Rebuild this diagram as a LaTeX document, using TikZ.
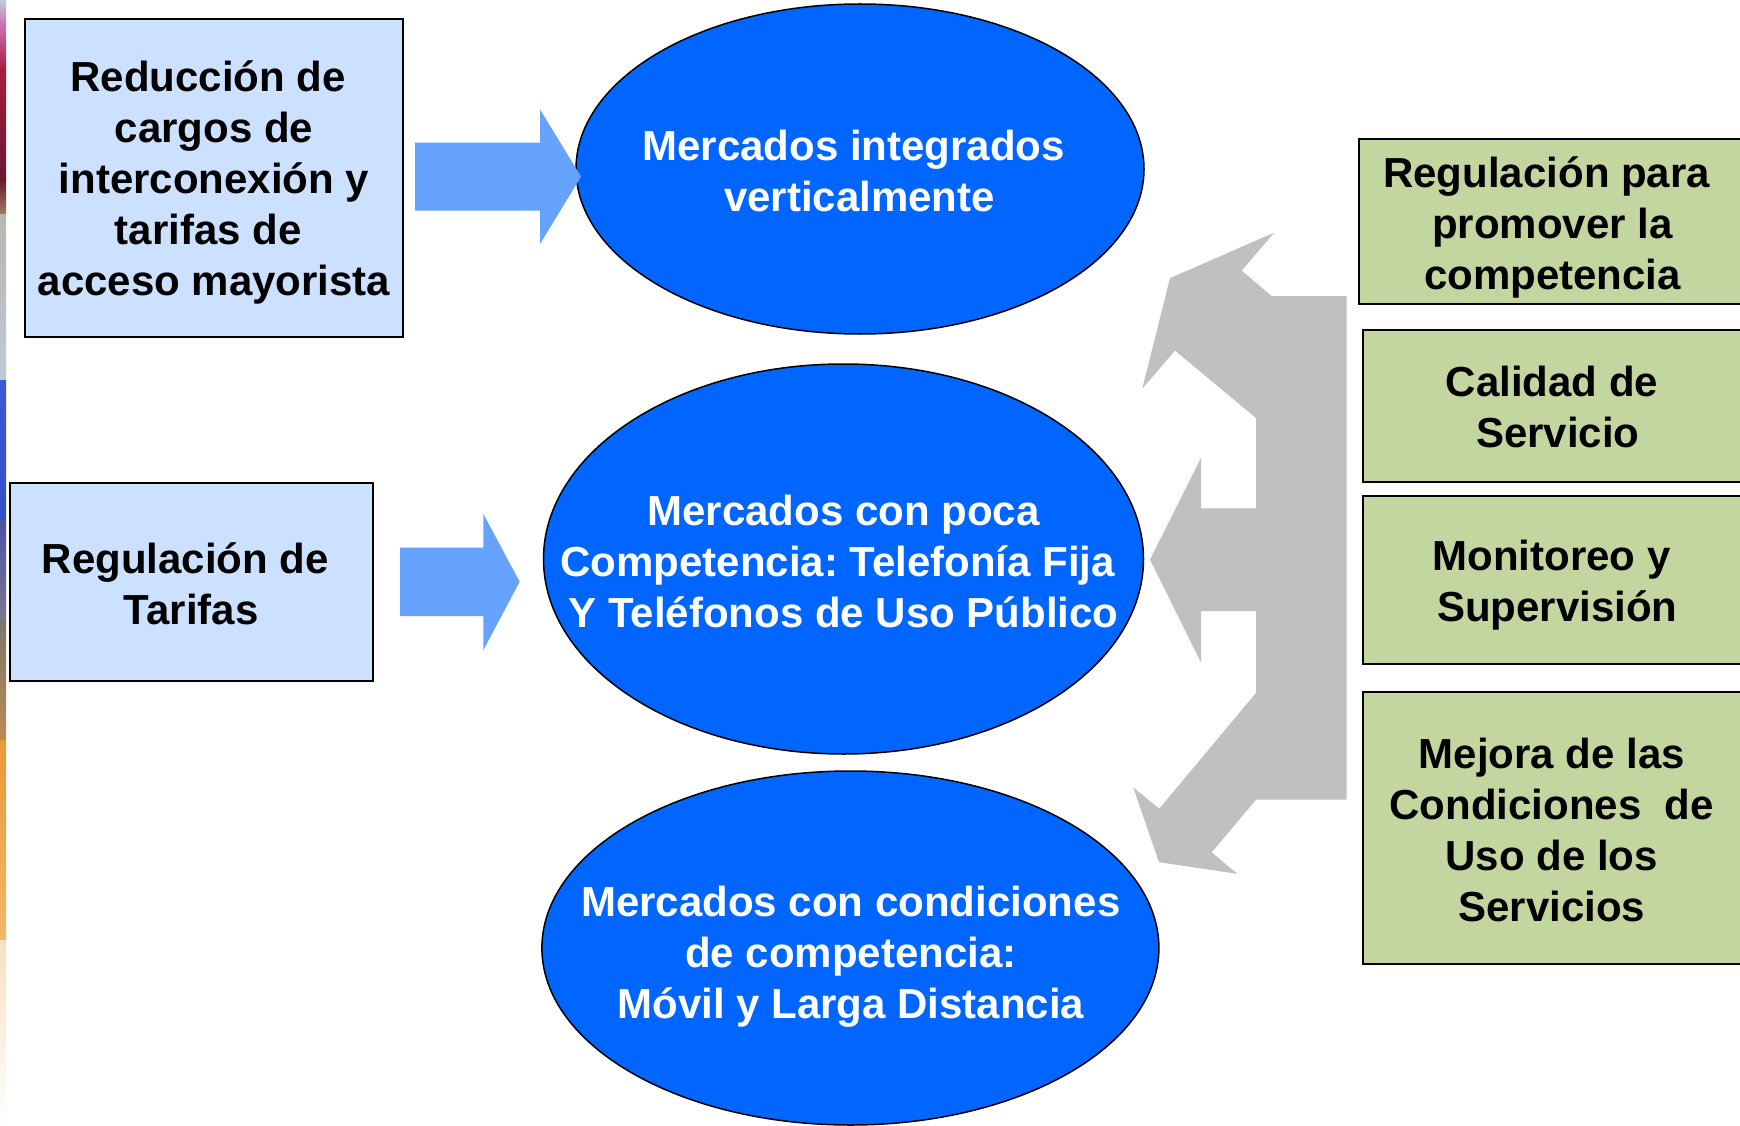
\documentclass[tikz,border=0pt]{standalone}
\usepackage{fontspec}
\setmainfont{Liberation Sans}
\frenchspacing
\definecolor{boxblue}{HTML}{CCE0FF}
\definecolor{boxgreen}{HTML}{C4D6A0}
\definecolor{mktblue}{HTML}{0066FF}
\definecolor{arrblue}{HTML}{66A3FF}
\definecolor{arrgray}{HTML}{C0C0C0}
\newcommand{\tsp}{\kern11.7pt}
\tikzset{
  bigtext/.style={font=\bfseries\fontsize{42}{51}\selectfont, align=center, inner sep=0pt},
  lbox/.style={draw=black, line width=2pt, fill=boxblue, rectangle, inner sep=0pt},
  gbox/.style={draw=black, line width=2pt, fill=boxgreen, rectangle, inner sep=0pt},
  mkt/.style={draw=black, line width=1.5pt, fill=mktblue, ellipse, inner sep=0pt},
  mkttext/.style={bigtext, text=white},
  boxtext/.style={bigtext, text=black},
  blockarrow/.style={fill=arrblue, draw=none},
  grayarrow/.style={fill=arrgray, draw=none}
}
\usetikzlibrary{shapes.geometric}
\begin{document}
\begin{tikzpicture}[x=1pt,y=-1pt]
\clip (0,0) rectangle (1740,1126);
\fill[white] (0,0) rectangle (1740,1126);

% decorative strip at the left edge
\shade[top color={rgb,255:red,192;green,204;blue,216}, bottom color={rgb,255:red,208;green,112;blue,176}] (0,0) rectangle (6,25);
\shade[top color={rgb,255:red,208;green,112;blue,176}, bottom color={rgb,255:red,168;green,28;blue,64}] (0,25) rectangle (6,70);
\shade[top color={rgb,255:red,168;green,28;blue,64}, bottom color={rgb,255:red,106;green,24;blue,48}] (0,70) rectangle (6,180);
\shade[top color={rgb,255:red,106;green,24;blue,48}, bottom color={rgb,255:red,160;green,128;blue,96}] (0,180) rectangle (6,215);
\shade[top color={rgb,255:red,184;green,184;blue,176}, bottom color={rgb,255:red,192;green,200;blue,216}] (0,215) rectangle (6,380);
\shade[top color={rgb,255:red,56;green,88;blue,216}, bottom color={rgb,255:red,48;green,80;blue,200}] (0,380) rectangle (6,520);
\shade[top color={rgb,255:red,80;green,80;blue,168}, bottom color={rgb,255:red,120;green,120;blue,144}] (0,520) rectangle (6,620);
\shade[top color={rgb,255:red,120;green,120;blue,112}, bottom color={rgb,255:red,192;green,136;blue,80}] (0,620) rectangle (6,740);
\shade[top color={rgb,255:red,232;green,152;blue,56}, bottom color={rgb,255:red,244;green,184;blue,104}] (0,740) rectangle (6,940);
\shade[top color={rgb,255:red,248;green,224;blue,192}, bottom color=white] (0,940) rectangle (6,1126);

% gray multi-headed arrow
\path[grayarrow] (1274.3,232.6) -- (1241.7,270.6) -- (1271.7,296.1) -- (1346.7,296.1)
  -- (1346.7,799.6) -- (1256,799.6) -- (1211.7,852.4) -- (1237.3,873.8) -- (1159,862.2)
  -- (1133.3,787.6) -- (1159.3,808.6) -- (1256,692.9) -- (1256,611.1) -- (1201,611.1)
  -- (1201,662.5) -- (1150,559.7) -- (1201,457.8) -- (1201,508.3) -- (1256,508.3)
  -- (1256,418) -- (1175,350.6) -- (1142.3,388.6) -- (1170,278.2) -- cycle;

% left boxes
\node[lbox, minimum width=378pt, minimum height=318pt] (reduccion) at (214,178.2) {};
\node[boxtext] (reducciont) at (214,182.7)
  {Reducción de\tsp\\cargos de\\interconexión y\\tarifas de\tsp\\acceso mayorista};
\node[lbox, minimum width=363.4pt, minimum height=197.4pt] (tarifas) at (191.3,582) {};
\node[boxtext] (tarifast) at (191.3,584) {Regulación de\tsp\\Tarifas};

% market ellipses
\node[mkt, minimum width=568pt, minimum height=330pt] (mkt1) at (860,169) {};
\node[mkttext] (mkt1t) at (859.5,171) {Mercados integrados\tsp\\verticalmente};
\node[mkt, minimum width=600pt, minimum height=390pt] (mkt2) at (843.5,559) {};
\node[mkttext] (mkt2t) at (843.5,561) {Mercados con poca\\Competencia: Telefonía Fija\tsp\\Y Teléfonos de Uso Público};
\node[mkt, minimum width=617pt, minimum height=354pt] (mkt3) at (850.4,948) {};
\node[mkttext] (mkt3t) at (850.8,957) {Mercados con condiciones\\de competencia:\\Móvil y Larga Distancia};

% blue block arrows
\path[blockarrow] (415,142.7) -- (540,142.7) -- (540,109.3) -- (581,176.7) -- (540,244)
  -- (540,210.7) -- (415,210.7) -- cycle;
\path[blockarrow] (400,547.7) -- (483.4,547.7) -- (483.4,514) -- (519.7,581.7) -- (483.4,650)
  -- (483.4,616) -- (400,616) -- cycle;

% green boxes
\node[gbox, minimum width=387pt, minimum height=165.3pt] (promover) at (1552.5,221.7) {};
\node[boxtext] (promovert) at (1552.5,227.2) {Regulación para\tsp\\promover la\\competencia};
\node[gbox, minimum width=383pt, minimum height=151.7pt] (calidad) at (1554.5,405.8) {};
\node[boxtext] (calidadt) at (1557.8,406.8) {Calidad de\tsp\\Servicio};
\node[gbox, minimum width=383pt, minimum height=168.3pt] (monitoreo) at (1554.5,579.8) {};
\node[boxtext] (monitoreot) at (1557.3,585.3) {Monitoreo y\tsp\\Supervisión};
\node[gbox, minimum width=383pt, minimum height=272.3pt] (mejora) at (1554.5,827.8) {};
\node[boxtext] (mejorat) at (1551.7,829.8) {Mejora de las\\Condiciones\ \ de\\Uso de los\\Servicios};
\end{tikzpicture}
\end{document}
